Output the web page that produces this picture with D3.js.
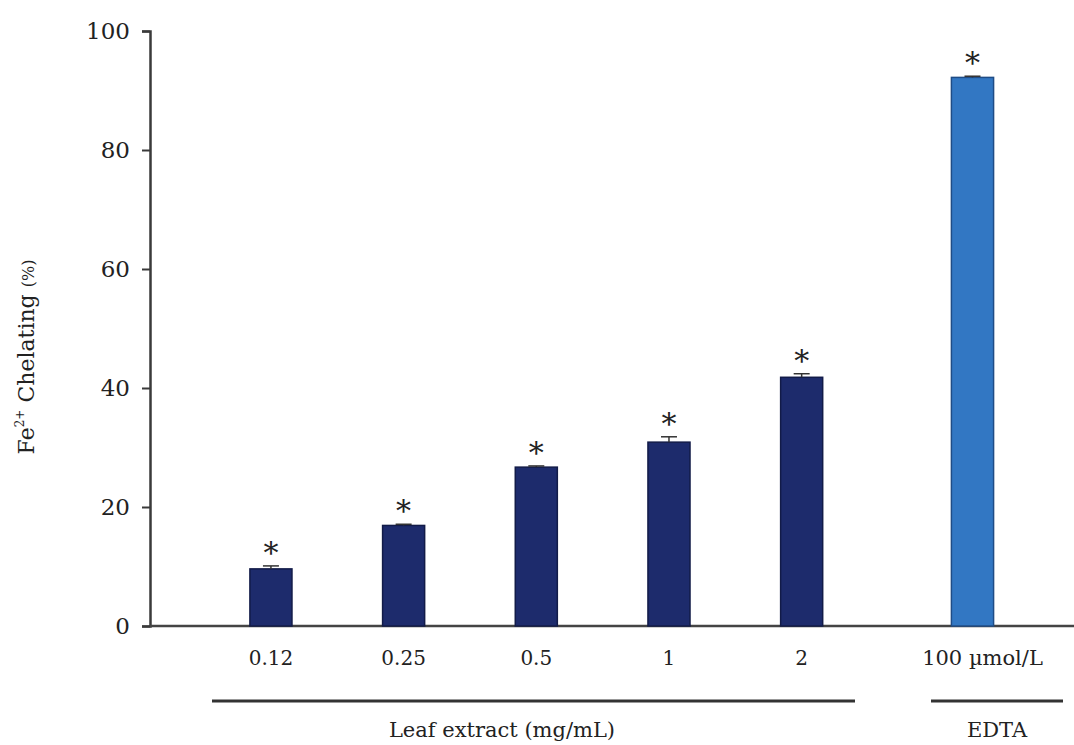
<!DOCTYPE html>
<html lang="en">
<head>
    <meta charset="UTF-8">
    <title>Fe2+ chelating</title>
    <style>
        body { margin: 0; background: #fff; }
        text { font-family: "DejaVu Serif", "Liberation Serif", serif; fill: #222; }
    </style>
    <script src="https://d3js.org/d3.v7.min.js"></script>
</head>
<body>
<script>
// values
const leafDoses = ["0.12", "0.25", "0.5", "1", "2"];
const leafMeans = [9.6, 16.9, 26.7, 30.9, 41.8];
const leafErrs  = [0.5, 0.2, 0.2, 0.9, 0.6];
const edtaDose  = ["100 \u00b5mol/L"];
const edtaMeans = [92.2];
const edtaErrs  = [0.2];
const yTicks = [0, 20, 40, 60, 80, 100];

const W = 1074, H = 745;
const svg = d3.select("body").append("svg")
    .attr("width", W).attr("height", H);

// y scale
const y = d3.scaleLinear().domain([0, 100]).range([626, 31]);

// two band scales, one per group (EDTA sits apart)
const leafX = d3.scaleBand().domain(leafDoses)
    .range([204.6, 868]).paddingInner(0.683).paddingOuter(0.3415);
const edtaX = d3.scaleBand().domain(edtaDose)
    .range([906, 1039]).paddingInner(0.683).paddingOuter(0.3415);

const leafData = leafDoses.map((d, i) => ({ k: d, v: leafMeans[i], e: leafErrs[i], x: leafX }));
const edtaData = edtaDose.map((d, i) => ({ k: d, v: edtaMeans[i], e: edtaErrs[i], x: edtaX }));
const all = leafData.concat(edtaData);

// y axis
const yAxis = svg.append("g")
    .attr("transform", "translate(150,0)")
    .call(d3.axisLeft(y).tickValues(yTicks).tickSize(8).tickPadding(12));
yAxis.select(".domain").attr("stroke", "#3a3a3a").attr("stroke-width", 2.5);
yAxis.selectAll(".tick line").attr("stroke", "#3a3a3a").attr("stroke-width", 2);
yAxis.selectAll(".tick text")
    .style("font-family", "DejaVu Serif").style("font-size", "23px").attr("fill", "#222");

// x axis baseline (runs to right edge)
svg.append("line")
    .attr("x1", 150).attr("x2", W)
    .attr("y1", y(0)).attr("y2", y(0))
    .attr("stroke", "#444").attr("stroke-width", 2.5);

// bars
svg.selectAll(".bar").data(all).enter().append("rect")
    .attr("class", "bar")
    .attr("x", d => d.x(d.k))
    .attr("width", d => d.x.bandwidth())
    .attr("y", d => y(d.v))
    .attr("height", d => y(0) - y(d.v))
    .attr("fill", d => d.x === edtaX ? "#3277c3" : "#1d2b6c")
    .attr("stroke", d => d.x === edtaX ? "#1f4c86" : "#121b48")
    .attr("stroke-width", 1.5);

// error bars
const eb = svg.selectAll(".err").data(all).enter().append("g").attr("class", "err")
    .attr("stroke", "#333").attr("stroke-width", 1.5);
eb.append("line")
    .attr("x1", d => d.x(d.k) + d.x.bandwidth() / 2)
    .attr("x2", d => d.x(d.k) + d.x.bandwidth() / 2)
    .attr("y1", d => y(d.v)).attr("y2", d => y(d.v + d.e));
eb.append("line")
    .attr("x1", d => d.x(d.k) + d.x.bandwidth() / 2 - 8)
    .attr("x2", d => d.x(d.k) + d.x.bandwidth() / 2 + 8)
    .attr("y1", d => y(d.v + d.e)).attr("y2", d => y(d.v + d.e));

// significance stars
svg.selectAll(".star").data(all).enter().append("text")
    .attr("class", "star")
    .attr("x", d => d.x(d.k) + d.x.bandwidth() / 2)
    .attr("y", d => y(d.v + d.e) - 3)
    .attr("text-anchor", "middle")
    .style("font-size", "30px")
    .text("*");

// category labels
svg.selectAll(".xlab").data(all).enter().append("text")
    .attr("class", "xlab")
    .attr("x", d => d.x(d.k) + d.x.bandwidth() / 2 + (d.x === edtaX ? 10 : 0))
    .attr("y", 665)
    .attr("text-anchor", "middle")
    .style("font-size", d => d.x === edtaX ? "21px" : "20px")
    .text(d => d.k);

// group brackets + names
const groups = [
    { name: "Leaf extract (mg/mL)", x0: 212, x1: 855, tx: 502 },
    { name: "EDTA", x0: 931, x1: 1063, tx: 997 }
];
svg.selectAll(".grp").data(groups).enter().append("line")
    .attr("x1", d => d.x0).attr("x2", d => d.x1)
    .attr("y1", 701).attr("y2", 701)
    .attr("stroke", "#333").attr("stroke-width", 3);
svg.selectAll(".gname").data(groups).enter().append("text")
    .attr("x", d => d.tx)
    .attr("y", 737)
    .attr("text-anchor", "middle")
    .style("font-size", "21px")
    .text(d => d.name);

// y label
const yl = svg.append("text")
    .attr("transform", "translate(34,357) rotate(-90)")
    .attr("text-anchor", "middle")
    .style("font-size", "22px");
yl.append("tspan").text("Fe");
yl.append("tspan").attr("dy", -10).style("font-size", "12px").text("2+");
yl.append("tspan").attr("dy", 10).text(" Chelating ");
yl.append("tspan").style("font-size", "16px").text("(%)");
</script>
</body>
</html>
